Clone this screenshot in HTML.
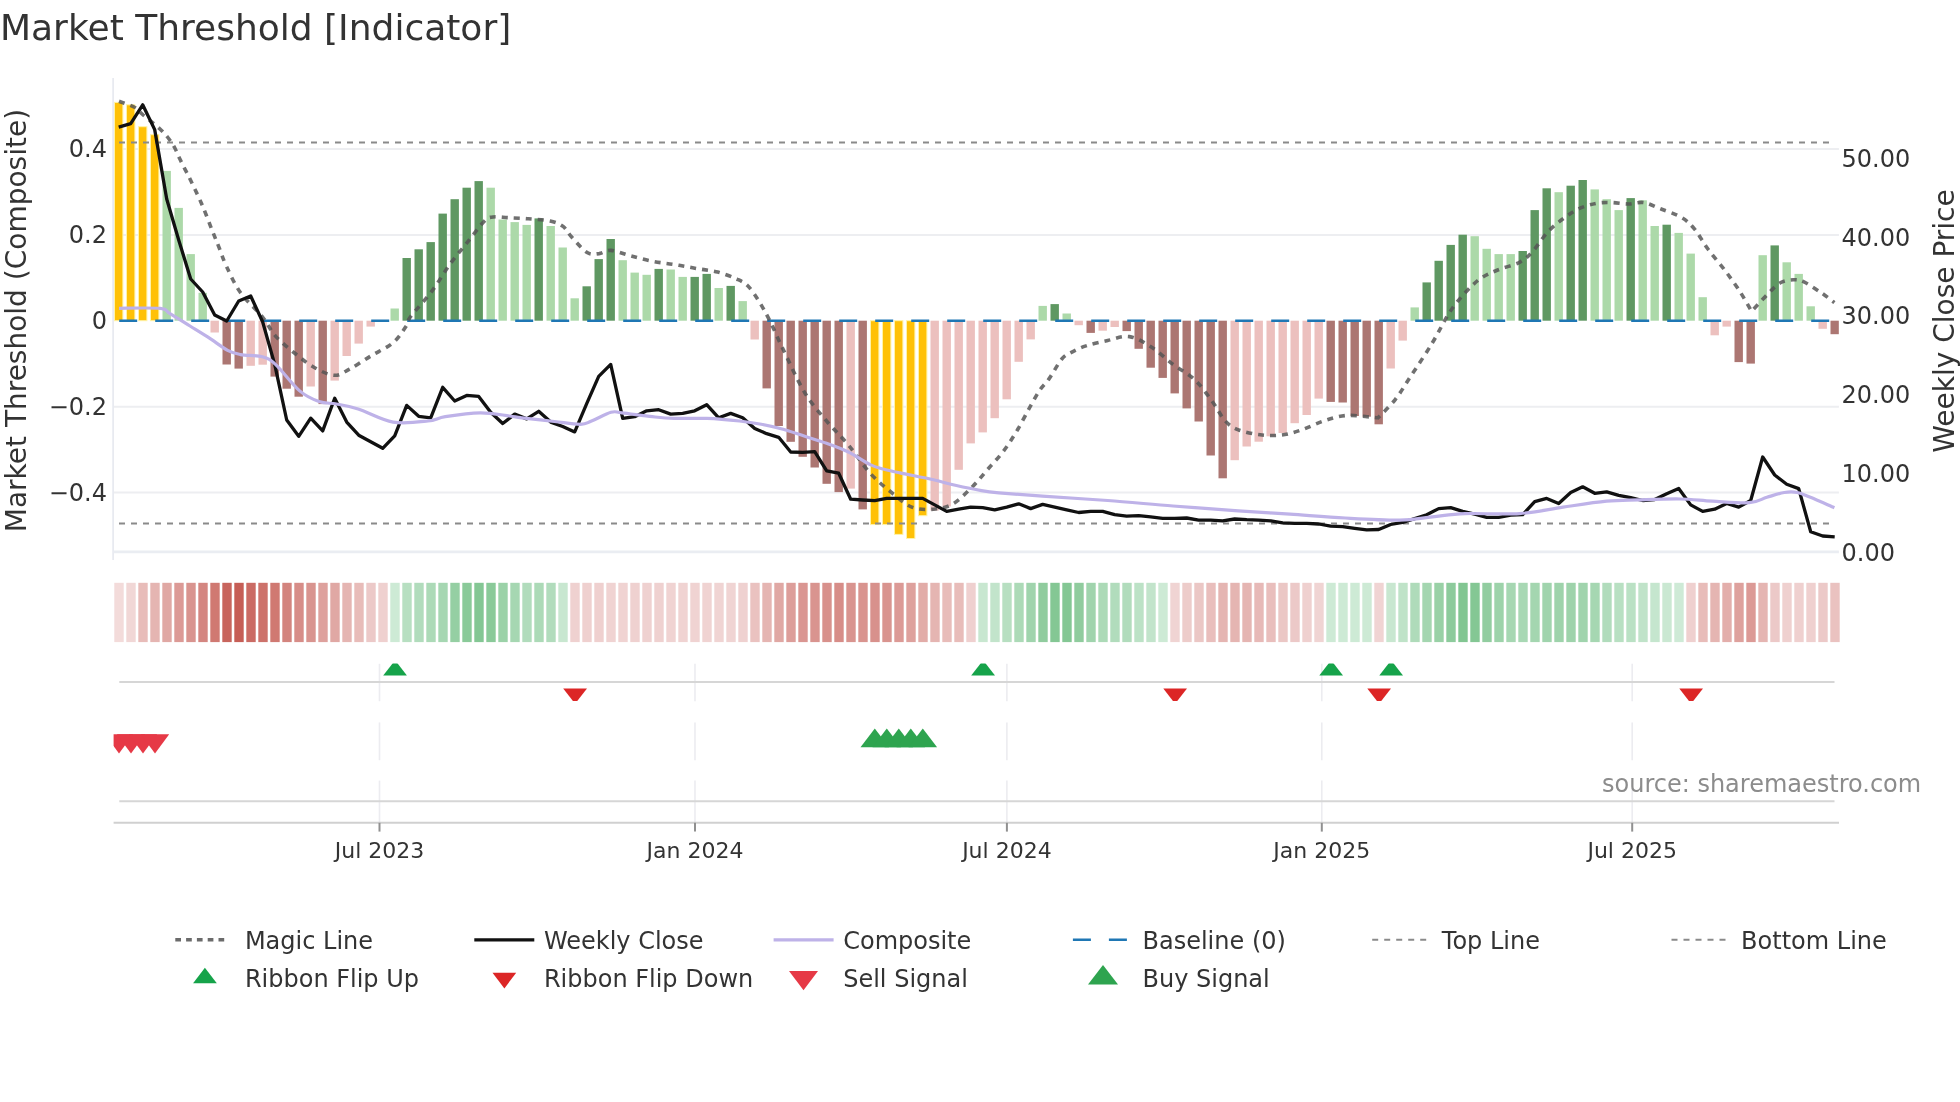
<!DOCTYPE html><html><head><meta charset="utf-8"><title>Market Threshold [Indicator]</title>
<style>html,body{margin:0;padding:0;background:#fff;}svg{display:block;will-change:transform;}text{-webkit-font-smoothing:antialiased;font-family:"DejaVu Sans","Liberation Sans",sans-serif;}</style></head><body>
<svg width="1960" height="1102" viewBox="0 0 1960 1102">
<rect width="1960" height="1102" fill="#fff"/>
<defs>
<clipPath id="cMain"><rect x="113.6" y="78" width="1725.3" height="475"/></clipPath>
<clipPath id="cFlip"><rect x="113.6" y="663.5" width="1725.3" height="37.5"/></clipPath>
<clipPath id="cSig"><rect x="113.6" y="722.4" width="1725.3" height="38"/></clipPath>
</defs>
<text x="0" y="40" font-size="36" fill="#333">Market Threshold [Indicator]</text>
<line x1="113.6" y1="149.1" x2="1838.9" y2="149.1" stroke="#edeef1" stroke-width="2"/>
<line x1="113.6" y1="234.95" x2="1838.9" y2="234.95" stroke="#edeef1" stroke-width="2"/>
<line x1="113.6" y1="406.65" x2="1838.9" y2="406.65" stroke="#edeef1" stroke-width="2"/>
<line x1="113.6" y1="492.5" x2="1838.9" y2="492.5" stroke="#edeef1" stroke-width="2"/>
<line x1="113.1" y1="78" x2="113.1" y2="560" stroke="#e6e8ef" stroke-width="1.6"/>
<line x1="113.6" y1="551.9" x2="1838.9" y2="551.9" stroke="#eaedf2" stroke-width="2.6"/>
<g clip-path="url(#cMain)">
<rect x="114.5" y="102.4" width="8.4" height="218.3" fill="#FFC107" stroke="#fff3a8" stroke-width="1"/>
<rect x="126.5" y="104.8" width="8.4" height="215.9" fill="#FFC107" stroke="#fff3a8" stroke-width="1"/>
<rect x="138.5" y="126.7" width="8.4" height="194" fill="#FFC107" stroke="#fff3a8" stroke-width="1"/>
<rect x="150.5" y="134.7" width="8.4" height="186" fill="#FFC107" stroke="#fff3a8" stroke-width="1"/>
<rect x="162.5" y="170.9" width="8.4" height="149.8" fill="#acd9a9"/>
<rect x="174.5" y="207.9" width="8.4" height="112.8" fill="#acd9a9"/>
<rect x="186.5" y="254.1" width="8.4" height="66.6" fill="#acd9a9"/>
<rect x="198.5" y="292.8" width="8.4" height="27.9" fill="#acd9a9"/>
<rect x="210.5" y="320.7" width="8.4" height="11.8" fill="#ecc0be"/>
<rect x="222.5" y="320.7" width="8.4" height="43.8" fill="#ac7672"/>
<rect x="234.5" y="320.7" width="8.4" height="47.9" fill="#ac7672"/>
<rect x="246.5" y="320.7" width="8.4" height="45.1" fill="#ecc0be"/>
<rect x="258.5" y="320.7" width="8.4" height="44" fill="#ecc0be"/>
<rect x="270.5" y="320.7" width="8.4" height="55.9" fill="#ac7672"/>
<rect x="282.5" y="320.7" width="8.4" height="68" fill="#ac7672"/>
<rect x="294.5" y="320.7" width="8.4" height="76" fill="#ac7672"/>
<rect x="306.5" y="320.7" width="8.4" height="65.8" fill="#ecc0be"/>
<rect x="318.5" y="320.7" width="8.4" height="83.4" fill="#ac7672"/>
<rect x="330.5" y="320.7" width="8.4" height="59.9" fill="#ecc0be"/>
<rect x="342.5" y="320.7" width="8.4" height="35.3" fill="#ecc0be"/>
<rect x="354.5" y="320.7" width="8.4" height="22.9" fill="#ecc0be"/>
<rect x="366.5" y="320.7" width="8.4" height="5.9" fill="#ecc0be"/>
<rect x="378.5" y="320.7" width="8.4" height="0.8" fill="#ecc0be"/>
<rect x="390.5" y="308.5" width="8.4" height="12.2" fill="#acd9a9"/>
<rect x="402.5" y="258" width="8.4" height="62.7" fill="#5f9862"/>
<rect x="414.5" y="249.3" width="8.4" height="71.4" fill="#5f9862"/>
<rect x="426.5" y="242.1" width="8.4" height="78.6" fill="#5f9862"/>
<rect x="438.5" y="213.6" width="8.4" height="107.1" fill="#5f9862"/>
<rect x="450.5" y="199.2" width="8.4" height="121.5" fill="#5f9862"/>
<rect x="462.5" y="187.7" width="8.4" height="133" fill="#5f9862"/>
<rect x="474.5" y="181.1" width="8.4" height="139.6" fill="#5f9862"/>
<rect x="486.5" y="187.7" width="8.4" height="133" fill="#acd9a9"/>
<rect x="498.5" y="219.5" width="8.4" height="101.2" fill="#acd9a9"/>
<rect x="510.5" y="222.1" width="8.4" height="98.6" fill="#acd9a9"/>
<rect x="522.5" y="224.9" width="8.4" height="95.8" fill="#acd9a9"/>
<rect x="534.5" y="218.4" width="8.4" height="102.3" fill="#5f9862"/>
<rect x="546.5" y="226" width="8.4" height="94.7" fill="#acd9a9"/>
<rect x="558.5" y="247.5" width="8.4" height="73.2" fill="#acd9a9"/>
<rect x="570.5" y="298.3" width="8.4" height="22.4" fill="#acd9a9"/>
<rect x="582.5" y="286.3" width="8.4" height="34.4" fill="#5f9862"/>
<rect x="594.5" y="259.1" width="8.4" height="61.6" fill="#5f9862"/>
<rect x="606.5" y="239" width="8.4" height="81.7" fill="#5f9862"/>
<rect x="618.5" y="260.2" width="8.4" height="60.5" fill="#acd9a9"/>
<rect x="630.5" y="272.6" width="8.4" height="48.1" fill="#acd9a9"/>
<rect x="642.5" y="274.8" width="8.4" height="45.9" fill="#acd9a9"/>
<rect x="654.5" y="268.9" width="8.4" height="51.8" fill="#5f9862"/>
<rect x="666.5" y="269.5" width="8.4" height="51.2" fill="#acd9a9"/>
<rect x="678.5" y="276.9" width="8.4" height="43.8" fill="#acd9a9"/>
<rect x="690.5" y="276.9" width="8.4" height="43.8" fill="#5f9862"/>
<rect x="702.5" y="273.9" width="8.4" height="46.8" fill="#5f9862"/>
<rect x="714.5" y="288" width="8.4" height="32.7" fill="#acd9a9"/>
<rect x="726.5" y="285.9" width="8.4" height="34.8" fill="#5f9862"/>
<rect x="738.5" y="301.1" width="8.4" height="19.6" fill="#acd9a9"/>
<rect x="750.5" y="320.7" width="8.4" height="18.8" fill="#ecc0be"/>
<rect x="762.5" y="320.7" width="8.4" height="67.7" fill="#ac7672"/>
<rect x="774.5" y="320.7" width="8.4" height="105.3" fill="#ac7672"/>
<rect x="786.5" y="320.7" width="8.4" height="121.1" fill="#ac7672"/>
<rect x="798.5" y="320.7" width="8.4" height="136.1" fill="#ac7672"/>
<rect x="810.5" y="320.7" width="8.4" height="146.8" fill="#ac7672"/>
<rect x="822.5" y="320.7" width="8.4" height="163.1" fill="#ac7672"/>
<rect x="834.5" y="320.7" width="8.4" height="171.4" fill="#ac7672"/>
<rect x="846.5" y="320.7" width="8.4" height="167.9" fill="#ecc0be"/>
<rect x="858.5" y="320.7" width="8.4" height="188.7" fill="#ac7672"/>
<rect x="870.5" y="320.7" width="8.4" height="203.9" fill="#FFC107" stroke="#fff3a8" stroke-width="1"/>
<rect x="882.5" y="320.7" width="8.4" height="203.9" fill="#FFC107" stroke="#fff3a8" stroke-width="1"/>
<rect x="894.5" y="320.7" width="8.4" height="213.7" fill="#FFC107" stroke="#fff3a8" stroke-width="1"/>
<rect x="906.5" y="320.7" width="8.4" height="217.8" fill="#FFC107" stroke="#fff3a8" stroke-width="1"/>
<rect x="918.5" y="320.7" width="8.4" height="195" fill="#FFC107" stroke="#fff3a8" stroke-width="1"/>
<rect x="930.5" y="320.7" width="8.4" height="189.8" fill="#ecc0be"/>
<rect x="942.5" y="320.7" width="8.4" height="185.8" fill="#ecc0be"/>
<rect x="954.5" y="320.7" width="8.4" height="149.1" fill="#ecc0be"/>
<rect x="966.5" y="320.7" width="8.4" height="122.7" fill="#ecc0be"/>
<rect x="978.5" y="320.7" width="8.4" height="111.7" fill="#ecc0be"/>
<rect x="990.5" y="320.7" width="8.4" height="97.5" fill="#ecc0be"/>
<rect x="1002.5" y="320.7" width="8.4" height="78.6" fill="#ecc0be"/>
<rect x="1014.5" y="320.7" width="8.4" height="41.1" fill="#ecc0be"/>
<rect x="1026.5" y="320.7" width="8.4" height="18.7" fill="#ecc0be"/>
<rect x="1038.5" y="305.9" width="8.4" height="14.8" fill="#acd9a9"/>
<rect x="1050.5" y="304.1" width="8.4" height="16.6" fill="#5f9862"/>
<rect x="1062.5" y="313.5" width="8.4" height="7.2" fill="#acd9a9"/>
<rect x="1074.5" y="320.7" width="8.4" height="4.5" fill="#ecc0be"/>
<rect x="1086.5" y="320.7" width="8.4" height="12.2" fill="#ac7672"/>
<rect x="1098.5" y="320.7" width="8.4" height="10" fill="#ecc0be"/>
<rect x="1110.5" y="320.7" width="8.4" height="6.3" fill="#ecc0be"/>
<rect x="1122.5" y="320.7" width="8.4" height="10.4" fill="#ac7672"/>
<rect x="1134.5" y="320.7" width="8.4" height="28.1" fill="#ac7672"/>
<rect x="1146.5" y="320.7" width="8.4" height="47" fill="#ac7672"/>
<rect x="1158.5" y="320.7" width="8.4" height="57.2" fill="#ac7672"/>
<rect x="1170.5" y="320.7" width="8.4" height="72.7" fill="#ac7672"/>
<rect x="1182.5" y="320.7" width="8.4" height="87.7" fill="#ac7672"/>
<rect x="1194.5" y="320.7" width="8.4" height="100.8" fill="#ac7672"/>
<rect x="1206.5" y="320.7" width="8.4" height="134.8" fill="#ac7672"/>
<rect x="1218.5" y="320.7" width="8.4" height="157.6" fill="#ac7672"/>
<rect x="1230.5" y="320.7" width="8.4" height="139.5" fill="#ecc0be"/>
<rect x="1242.5" y="320.7" width="8.4" height="125.8" fill="#ecc0be"/>
<rect x="1254.5" y="320.7" width="8.4" height="121" fill="#ecc0be"/>
<rect x="1266.5" y="320.7" width="8.4" height="115.6" fill="#ecc0be"/>
<rect x="1278.5" y="320.7" width="8.4" height="112.3" fill="#ecc0be"/>
<rect x="1290.5" y="320.7" width="8.4" height="102.5" fill="#ecc0be"/>
<rect x="1302.5" y="320.7" width="8.4" height="94.3" fill="#ecc0be"/>
<rect x="1314.5" y="320.7" width="8.4" height="77.9" fill="#ecc0be"/>
<rect x="1326.5" y="320.7" width="8.4" height="81.2" fill="#ac7672"/>
<rect x="1338.5" y="320.7" width="8.4" height="81.8" fill="#ac7672"/>
<rect x="1350.5" y="320.7" width="8.4" height="95.3" fill="#ac7672"/>
<rect x="1362.5" y="320.7" width="8.4" height="96" fill="#ac7672"/>
<rect x="1374.5" y="320.7" width="8.4" height="103.6" fill="#ac7672"/>
<rect x="1386.5" y="320.7" width="8.4" height="47.8" fill="#ecc0be"/>
<rect x="1398.5" y="320.7" width="8.4" height="19.9" fill="#ecc0be"/>
<rect x="1410.5" y="307.4" width="8.4" height="13.3" fill="#acd9a9"/>
<rect x="1422.5" y="282.4" width="8.4" height="38.3" fill="#5f9862"/>
<rect x="1434.5" y="260.8" width="8.4" height="59.9" fill="#5f9862"/>
<rect x="1446.5" y="244.9" width="8.4" height="75.8" fill="#5f9862"/>
<rect x="1458.5" y="234.7" width="8.4" height="86" fill="#5f9862"/>
<rect x="1470.5" y="236.2" width="8.4" height="84.5" fill="#acd9a9"/>
<rect x="1482.5" y="248.8" width="8.4" height="71.9" fill="#acd9a9"/>
<rect x="1494.5" y="254.1" width="8.4" height="66.6" fill="#acd9a9"/>
<rect x="1506.5" y="254.1" width="8.4" height="66.6" fill="#acd9a9"/>
<rect x="1518.5" y="251" width="8.4" height="69.7" fill="#5f9862"/>
<rect x="1530.5" y="210.1" width="8.4" height="110.6" fill="#5f9862"/>
<rect x="1542.5" y="188.3" width="8.4" height="132.4" fill="#5f9862"/>
<rect x="1554.5" y="192.2" width="8.4" height="128.5" fill="#acd9a9"/>
<rect x="1566.5" y="185.7" width="8.4" height="135" fill="#5f9862"/>
<rect x="1578.5" y="180" width="8.4" height="140.7" fill="#5f9862"/>
<rect x="1590.5" y="189.4" width="8.4" height="131.3" fill="#acd9a9"/>
<rect x="1602.5" y="199.2" width="8.4" height="121.5" fill="#acd9a9"/>
<rect x="1614.5" y="210.1" width="8.4" height="110.6" fill="#acd9a9"/>
<rect x="1626.5" y="198.1" width="8.4" height="122.6" fill="#5f9862"/>
<rect x="1638.5" y="200.3" width="8.4" height="120.4" fill="#acd9a9"/>
<rect x="1650.5" y="226" width="8.4" height="94.7" fill="#acd9a9"/>
<rect x="1662.5" y="224.7" width="8.4" height="96" fill="#5f9862"/>
<rect x="1674.5" y="232.9" width="8.4" height="87.8" fill="#acd9a9"/>
<rect x="1686.5" y="253.6" width="8.4" height="67.1" fill="#acd9a9"/>
<rect x="1698.5" y="297.2" width="8.4" height="23.5" fill="#acd9a9"/>
<rect x="1710.5" y="320.7" width="8.4" height="14.6" fill="#ecc0be"/>
<rect x="1722.5" y="320.7" width="8.4" height="5.9" fill="#ecc0be"/>
<rect x="1734.5" y="320.7" width="8.4" height="41.4" fill="#ac7672"/>
<rect x="1746.5" y="320.7" width="8.4" height="42.9" fill="#ac7672"/>
<rect x="1758.5" y="255.2" width="8.4" height="65.5" fill="#acd9a9"/>
<rect x="1770.5" y="245.4" width="8.4" height="75.3" fill="#5f9862"/>
<rect x="1782.5" y="262.3" width="8.4" height="58.4" fill="#acd9a9"/>
<rect x="1794.5" y="273.9" width="8.4" height="46.8" fill="#acd9a9"/>
<rect x="1806.5" y="306.3" width="8.4" height="14.4" fill="#acd9a9"/>
<rect x="1818.5" y="320.7" width="8.4" height="8.1" fill="#ecc0be"/>
<rect x="1830.5" y="320.7" width="8.4" height="13.5" fill="#ac7672"/>
<line x1="119" y1="142.5" x2="1834.7" y2="142.5" stroke="#8a8a8a" stroke-width="2" stroke-dasharray="6,6"/>
<line x1="119" y1="523.4" x2="1834.7" y2="523.4" stroke="#8a8a8a" stroke-width="2" stroke-dasharray="6,6"/>
<line x1="119.2" y1="320.7" x2="1834.7" y2="320.7" stroke="#1f77b4" stroke-width="2.4" stroke-dasharray="18,18"/>
<path d="M119,101.3C121.6,102.3 130.6,105 134.5,107.2C138.4,109.4 138.5,111 142.6,114.5C146.7,118 154.6,124 159,128.1C163.4,132.2 166.3,135.5 169,139C171.7,142.5 173.5,145.7 175.3,149C177.1,152.3 178.2,155.5 179.9,159C181.6,162.5 183.5,166.4 185.3,169.9C187.1,173.4 187.8,174.4 190.5,180C193.2,185.6 197.8,195 201.5,203.5C205.2,212 209.5,223.7 212.4,231C215.3,238.3 216.6,241.2 218.9,247.1C221.2,253 222.9,258.8 226.5,266.4C230.1,274 234.6,284.4 240.6,292.8C246.6,301.2 256.6,309.6 262.4,316.8C268.2,324 270.1,330 275.5,336.1C280.9,342.2 288.6,348.2 295.1,353.5C301.6,358.8 308.2,364.1 314.7,367.7C321.2,371.3 328.5,375.1 334.3,375.3C340.1,375.6 343.3,372.5 349.5,369.2C355.7,365.9 364,360.1 371.3,355.7C378.6,351.3 387.3,347.6 393.1,342.7C398.9,337.8 403.2,330.6 406.1,326.3C409,322 406.1,322.8 410.5,316.8C414.9,310.9 425.8,299.3 432.3,290.6C438.8,281.9 443.9,272.5 449.7,264.5C455.5,256.5 461.3,249.9 467.1,242.7C472.9,235.4 480.1,225.3 484.5,221C488.9,216.7 489.2,217.6 493.2,217C497.2,216.4 502.6,217.4 508.5,217.7C514.4,218 521.4,218.2 528.3,218.8C535.2,219.4 544.3,219.7 550.1,221C555.9,222.3 559.5,223.7 563.1,226.4C566.7,229.1 567.9,233 571.9,237.3C575.9,241.7 582.6,249.8 587.1,252.5C591.6,255.2 595.1,253.9 599.1,253.6C603.1,253.2 605.8,250 611,250.4C616.2,250.8 623.7,254 630.6,255.8C637.5,257.6 645.1,259.9 652.4,261.3C659.7,262.8 666.9,263.3 674.2,264.5C681.5,265.7 688.8,267.1 696,268.4C703.2,269.7 710.8,270.3 717.7,272.1C724.6,273.9 732.2,276.9 737.3,279.3C742.4,281.7 744.6,282.6 748.2,286.3C751.8,290 755.5,295.7 759.1,301.5C762.7,307.3 766,313.1 770,321.1C774,329.1 777.3,337.4 783.1,349.3C788.9,361.2 797.5,380.8 804.8,392.7C812,404.6 819.3,412.3 826.6,421C833.9,429.7 841.1,436.3 848.4,445C855.7,453.7 862.9,465.3 870.2,473.3C877.5,481.3 885.1,487.3 892,492.9C898.9,498.5 904.9,504.4 911.8,507.1C918.7,509.8 926.6,509.8 933.5,509.2C940.4,508.6 946.6,507.6 953.1,503.8C959.6,500 966.9,492.2 972.7,486.4C978.5,480.6 982.9,474.8 988,469C993.1,463.2 998.5,457.7 1003.2,451.5C1007.9,445.3 1011.9,439.1 1016.3,431.9C1020.7,424.6 1025.5,415 1029.4,408C1033.4,401 1036.7,394.7 1040,389.8C1043.3,384.9 1045.4,384 1049,378.9C1052.6,373.8 1058.1,363.4 1061.8,359C1065.5,354.6 1066.9,354.8 1070.9,352.6C1074.9,350.4 1079.9,347.9 1086,345.9C1092.1,343.9 1100.5,342.1 1107.7,340.5C1115,338.9 1122.2,335.5 1129.5,336.6C1136.8,337.7 1144,342.4 1151.3,347C1158.6,351.6 1165.8,358.9 1173.1,364.4C1180.3,369.8 1188.3,373.5 1194.8,379.7C1201.3,385.9 1207.2,394.6 1212.3,401.5C1217.4,408.4 1220.9,416.3 1225.3,421C1229.7,425.7 1232.6,427.5 1238.4,429.8C1244.2,432.1 1253,433.9 1260.2,434.8C1267.5,435.7 1275,435.8 1281.9,435C1288.8,434.2 1294.9,432.1 1301.8,429.8C1308.7,427.5 1316.2,423.4 1323.5,421C1330.8,418.6 1338,416.3 1345.3,415.6C1352.6,414.9 1361.6,416.3 1367.1,416.7C1372.5,417.1 1378,417.8 1378,417.8C1378,417.8 1390,406.2 1395.4,399.3C1400.8,392.4 1404.4,385.9 1410.6,376.5C1416.8,367.1 1425.9,353.6 1432.4,342.8C1438.9,332.1 1444.3,320.3 1449.8,312C1455.2,303.7 1460,298.4 1465.1,292.8C1470.2,287.2 1474.9,282.5 1480.3,278.7C1485.7,274.9 1491.2,272.7 1497.7,270C1504.2,267.3 1513.7,265.4 1519.5,262.3C1525.3,259.2 1527.9,256.6 1532.6,251.5C1537.3,246.4 1542.7,237.3 1547.8,231.9C1552.9,226.5 1558,222.6 1563.1,218.8C1568.2,215 1572.9,211.6 1578.3,209C1583.7,206.4 1590.2,204.6 1595.7,203.5C1601.2,202.4 1605.5,202.4 1611,202.5C1616.5,202.6 1623,204 1628.4,204C1633.8,204 1638.1,201.7 1643.6,202.5C1649,203.3 1654.7,206.5 1661.1,209C1667.5,211.5 1676.2,214.2 1681.9,217.7C1687.6,221.1 1690.6,224.4 1695,229.7C1699.4,235 1703,242.4 1708.1,249.3C1713.2,256.2 1720.1,263.9 1725.5,271.1C1730.9,278.4 1736.4,286.1 1740.7,292.8C1745,299.5 1751.6,311.3 1751.6,311.3C1751.6,311.3 1762.2,299.7 1766.9,295C1771.6,290.3 1775.6,285.5 1779.9,283C1784.2,280.5 1789,280 1793,279.8C1797,279.6 1799.2,279.7 1803.9,281.9C1808.6,284.1 1816.2,289.4 1821.3,292.8C1826.4,296.2 1832.2,301 1834.4,302.6" fill="none" stroke="#555" stroke-opacity="0.84" stroke-width="3.6" stroke-dasharray="6,6"/>
<polyline points="118.7,127.2 130.7,123.7 142.7,104.8 154.7,129.6 166.7,199 178.7,240 190.7,279 202.7,292 214.7,315 226.7,321 238.7,301 250.7,296 262.7,322 274.7,364.4 286.7,420 298.7,436.3 310.7,418.2 322.7,430.9 334.7,398.2 346.7,422.1 358.7,435.2 370.7,441.7 382.7,448.3 394.7,435.9 406.7,405.4 418.7,416.3 430.7,417.8 442.7,387.3 454.7,401 466.7,395.4 478.7,396.4 490.7,412.3 502.7,423.5 514.7,414.1 526.7,418.9 538.7,411.3 550.7,422.1 562.7,426.5 574.7,431.9 586.7,403.6 598.7,376.4 610.7,364.4 622.7,418.4 634.7,416.7 646.7,410.8 658.7,409.7 670.7,414.1 682.7,413.4 694.7,410.8 706.7,404.7 718.7,417.8 730.7,413.4 742.7,417.8 754.7,428.5 766.7,433.7 778.7,437.3 790.7,452 802.7,452.3 814.7,451.6 826.7,470.9 838.7,473.2 850.7,499.2 862.7,500 874.7,500.7 886.7,498.4 898.7,498.4 910.7,498.4 922.7,498.4 934.7,504.9 946.7,511.4 958.7,509.2 970.7,507.1 982.7,507.7 994.7,509.9 1006.7,507.1 1018.7,503.8 1030.7,508.6 1042.7,504.4 1054.7,507.1 1066.7,509.9 1078.7,512.5 1090.7,511.4 1102.7,511.4 1114.7,514.7 1126.7,516.2 1138.7,515.6 1150.7,516.9 1162.7,518.4 1174.7,518.4 1186.7,518 1198.7,520.1 1210.7,520.1 1222.7,520.8 1234.7,519 1246.7,519.7 1258.7,520.1 1270.7,520.8 1282.7,522.8 1294.7,523.4 1306.7,523.4 1318.7,524 1330.7,526.2 1342.7,526.7 1354.7,528.4 1366.7,529.9 1378.7,529.5 1390.7,524.5 1402.7,522.3 1414.7,518.6 1426.7,514.7 1438.7,508.6 1450.7,507.7 1462.7,511.4 1474.7,514.2 1486.7,517.3 1498.7,517.3 1510.7,515.1 1522.7,514.7 1534.7,501.6 1546.7,498.4 1558.7,503.5 1570.7,492.5 1582.7,486.8 1594.7,493.3 1606.7,491.8 1618.7,495.3 1630.7,497.7 1642.7,500.5 1654.7,499.6 1666.7,493.8 1678.7,488.5 1690.7,504.9 1702.7,511.4 1714.7,509.2 1726.7,503.4 1738.7,507.1 1750.7,500.5 1762.7,457 1774.7,475 1786.7,484.2 1798.7,488.6 1810.7,531.7 1822.7,536 1834.7,536.9" fill="none" stroke="#111" stroke-width="3.3" stroke-linejoin="round"/>
<path d="M119,308.3C125.8,308.3 151.5,307.5 160,308.4C168.5,309.3 165,310.7 170,313.6C175,316.5 183.7,322.1 190,326C196.3,329.9 201.7,333.1 208,337.2C214.3,341.2 222.2,347.4 227.6,350.3C233,353.2 234.8,353.5 240.6,354.6C246.4,355.7 256.6,355.2 262.4,356.8C268.2,358.4 269.3,358.8 275.5,364.4C281.7,370 292.1,384.4 299.4,390.6C306.6,396.8 312.8,399.3 319,401.5C325.2,403.7 330,402.8 336.5,404C343,405.2 348.8,406 358.2,409C367.6,412 381.5,420.1 393.1,422.1C404.7,424.1 419.2,421.9 427.9,421C436.6,420.1 436.6,418.1 445.3,416.7C454,415.3 469.5,412.9 480.2,412.8C490.9,412.7 502.7,415.2 509.6,416C516.5,416.8 514.3,416.9 521.8,417.8C529.3,418.7 544.6,420.4 554.4,421.5C564.2,422.6 574.4,424.4 580.6,424.3C586.8,424.2 586.4,423 591.5,421C596.6,419 605.9,413.7 611,412.3C616.1,410.9 615,412.1 621.9,412.8C628.8,413.5 643.7,415.8 652.4,416.7C661.1,417.6 665.1,418.1 674.2,418.4C683.3,418.7 696,418 706.9,418.4C717.8,418.8 730.4,420 739.5,421C748.6,422 754,422.9 761.3,424.3C768.6,425.7 775.9,427.3 783.1,429.3C790.4,431.3 797.5,434 804.8,436.3C812,438.6 819.3,440.7 826.6,443.3C833.9,445.9 841.1,448.4 848.4,452C855.7,455.6 864.4,461.8 870.2,464.6C876,467.4 878.2,467.6 883.2,469C888.2,470.4 891.6,471.1 900,472.9C908.4,474.7 924.3,477.7 933.5,479.8C942.7,481.9 947.3,483.5 955.3,485.3C963.3,487.1 974.2,489.4 981.5,490.7C988.8,492 988.8,492 998.9,492.9C1009,493.8 1024.3,494.9 1042.4,496.2C1060.5,497.5 1085.9,498.9 1107.7,500.5C1129.5,502.1 1151.3,504.3 1173.1,506C1194.9,507.7 1218.9,509.4 1238.4,510.8C1257.9,512.2 1272.2,513 1290,514.2C1307.8,515.4 1327,517 1345.3,518C1363.6,519 1385.3,520.3 1399.8,520.1C1414.3,519.9 1421.5,518 1432.4,516.9C1443.3,515.8 1450.6,514.1 1465.1,513.6C1479.6,513.1 1503.2,514.7 1519.5,513.6C1535.8,512.5 1548.6,509.2 1563.1,507.1C1577.6,505 1593.9,502.4 1606.6,501.2C1619.3,500 1627.1,500.3 1639.3,499.9C1651.5,499.5 1667.8,498.8 1680,499C1692.2,499.2 1700.8,500.6 1712.4,501.2C1724,501.8 1740.3,503.3 1749.4,502.7C1758.5,502.1 1761.1,499 1766.9,497.3C1772.7,495.6 1779.2,493.3 1784.3,492.5C1789.4,491.7 1792.9,491.7 1797.3,492.5C1801.7,493.3 1804.2,494.8 1810.4,497.3C1816.6,499.8 1830.4,506 1834.4,507.7" fill="none" stroke="#beb2e8" stroke-width="3.2" stroke-linejoin="round"/>
</g>
<rect x="114.3" y="582.8" width="9.4" height="59.3" fill="#f3dbda"/>
<rect x="126.3" y="582.8" width="9.4" height="59.3" fill="#f1d7d6"/>
<rect x="138.3" y="582.8" width="9.4" height="59.3" fill="#e8bcb9"/>
<rect x="150.3" y="582.8" width="9.4" height="59.3" fill="#e5b5b2"/>
<rect x="162.3" y="582.8" width="9.4" height="59.3" fill="#e0a8a4"/>
<rect x="174.3" y="582.8" width="9.4" height="59.3" fill="#dc9a96"/>
<rect x="186.3" y="582.8" width="9.4" height="59.3" fill="#d9948f"/>
<rect x="198.3" y="582.8" width="9.4" height="59.3" fill="#d48681"/>
<rect x="210.3" y="582.8" width="9.4" height="59.3" fill="#d07972"/>
<rect x="222.3" y="582.8" width="9.4" height="59.3" fill="#c8655d"/>
<rect x="234.3" y="582.8" width="9.4" height="59.3" fill="#c65e56"/>
<rect x="246.3" y="582.8" width="9.4" height="59.3" fill="#cb6b64"/>
<rect x="258.3" y="582.8" width="9.4" height="59.3" fill="#cd726b"/>
<rect x="270.3" y="582.8" width="9.4" height="59.3" fill="#d07972"/>
<rect x="282.3" y="582.8" width="9.4" height="59.3" fill="#d3847e"/>
<rect x="294.3" y="582.8" width="9.4" height="59.3" fill="#d78d88"/>
<rect x="306.3" y="582.8" width="9.4" height="59.3" fill="#d9948f"/>
<rect x="318.3" y="582.8" width="9.4" height="59.3" fill="#dea19d"/>
<rect x="330.3" y="582.8" width="9.4" height="59.3" fill="#e0a8a4"/>
<rect x="342.3" y="582.8" width="9.4" height="59.3" fill="#e5b5b2"/>
<rect x="354.3" y="582.8" width="9.4" height="59.3" fill="#e8bcb9"/>
<rect x="366.3" y="582.8" width="9.4" height="59.3" fill="#ecc9c8"/>
<rect x="378.3" y="582.8" width="9.4" height="59.3" fill="#efd0cf"/>
<rect x="390.3" y="582.8" width="9.4" height="59.3" fill="#cdead5"/>
<rect x="402.3" y="582.8" width="9.4" height="59.3" fill="#b7dfc1"/>
<rect x="414.3" y="582.8" width="9.4" height="59.3" fill="#b1dcbc"/>
<rect x="426.3" y="582.8" width="9.4" height="59.3" fill="#acdab7"/>
<rect x="438.3" y="582.8" width="9.4" height="59.3" fill="#a6d7b2"/>
<rect x="450.3" y="582.8" width="9.4" height="59.3" fill="#95cfa3"/>
<rect x="462.3" y="582.8" width="9.4" height="59.3" fill="#8aca99"/>
<rect x="474.3" y="582.8" width="9.4" height="59.3" fill="#84c794"/>
<rect x="486.3" y="582.8" width="9.4" height="59.3" fill="#8aca99"/>
<rect x="498.3" y="582.8" width="9.4" height="59.3" fill="#9bd2a8"/>
<rect x="510.3" y="582.8" width="9.4" height="59.3" fill="#a6d7b2"/>
<rect x="522.3" y="582.8" width="9.4" height="59.3" fill="#b1dcbc"/>
<rect x="534.3" y="582.8" width="9.4" height="59.3" fill="#acdab7"/>
<rect x="546.3" y="582.8" width="9.4" height="59.3" fill="#b1dcbc"/>
<rect x="558.3" y="582.8" width="9.4" height="59.3" fill="#c8e7d0"/>
<rect x="570.3" y="582.8" width="9.4" height="59.3" fill="#efd1d0"/>
<rect x="582.3" y="582.8" width="9.4" height="59.3" fill="#efd0cf"/>
<rect x="594.3" y="582.8" width="9.4" height="59.3" fill="#efd0cf"/>
<rect x="606.3" y="582.8" width="9.4" height="59.3" fill="#f0d3d2"/>
<rect x="618.3" y="582.8" width="9.4" height="59.3" fill="#f0d3d2"/>
<rect x="630.3" y="582.8" width="9.4" height="59.3" fill="#efd1d0"/>
<rect x="642.3" y="582.8" width="9.4" height="59.3" fill="#efd1d0"/>
<rect x="654.3" y="582.8" width="9.4" height="59.3" fill="#efd1d0"/>
<rect x="666.3" y="582.8" width="9.4" height="59.3" fill="#f0d3d2"/>
<rect x="678.3" y="582.8" width="9.4" height="59.3" fill="#f0d3d2"/>
<rect x="690.3" y="582.8" width="9.4" height="59.3" fill="#f0d3d2"/>
<rect x="702.3" y="582.8" width="9.4" height="59.3" fill="#f0d3d2"/>
<rect x="714.3" y="582.8" width="9.4" height="59.3" fill="#f0d4d3"/>
<rect x="726.3" y="582.8" width="9.4" height="59.3" fill="#f0d4d3"/>
<rect x="738.3" y="582.8" width="9.4" height="59.3" fill="#efd1d0"/>
<rect x="750.3" y="582.8" width="9.4" height="59.3" fill="#eac2c0"/>
<rect x="762.3" y="582.8" width="9.4" height="59.3" fill="#e5b5b2"/>
<rect x="774.3" y="582.8" width="9.4" height="59.3" fill="#e0a8a4"/>
<rect x="786.3" y="582.8" width="9.4" height="59.3" fill="#dd9e9a"/>
<rect x="798.3" y="582.8" width="9.4" height="59.3" fill="#da9692"/>
<rect x="810.3" y="582.8" width="9.4" height="59.3" fill="#d9948f"/>
<rect x="822.3" y="582.8" width="9.4" height="59.3" fill="#d8918c"/>
<rect x="834.3" y="582.8" width="9.4" height="59.3" fill="#d78d88"/>
<rect x="846.3" y="582.8" width="9.4" height="59.3" fill="#d9948f"/>
<rect x="858.3" y="582.8" width="9.4" height="59.3" fill="#d9948f"/>
<rect x="870.3" y="582.8" width="9.4" height="59.3" fill="#d8918c"/>
<rect x="882.3" y="582.8" width="9.4" height="59.3" fill="#d9948f"/>
<rect x="894.3" y="582.8" width="9.4" height="59.3" fill="#dc9a96"/>
<rect x="906.3" y="582.8" width="9.4" height="59.3" fill="#dea19d"/>
<rect x="918.3" y="582.8" width="9.4" height="59.3" fill="#e2aca8"/>
<rect x="930.3" y="582.8" width="9.4" height="59.3" fill="#e5b5b2"/>
<rect x="942.3" y="582.8" width="9.4" height="59.3" fill="#e8bcb9"/>
<rect x="954.3" y="582.8" width="9.4" height="59.3" fill="#e8bcb9"/>
<rect x="966.3" y="582.8" width="9.4" height="59.3" fill="#efd0cf"/>
<rect x="978.3" y="582.8" width="9.4" height="59.3" fill="#c8e7d0"/>
<rect x="990.3" y="582.8" width="9.4" height="59.3" fill="#c2e4cb"/>
<rect x="1002.3" y="582.8" width="9.4" height="59.3" fill="#b7dfc1"/>
<rect x="1014.3" y="582.8" width="9.4" height="59.3" fill="#acdab7"/>
<rect x="1026.3" y="582.8" width="9.4" height="59.3" fill="#a0d4ad"/>
<rect x="1038.3" y="582.8" width="9.4" height="59.3" fill="#90cc9e"/>
<rect x="1050.3" y="582.8" width="9.4" height="59.3" fill="#84c794"/>
<rect x="1062.3" y="582.8" width="9.4" height="59.3" fill="#84c794"/>
<rect x="1074.3" y="582.8" width="9.4" height="59.3" fill="#90cc9e"/>
<rect x="1086.3" y="582.8" width="9.4" height="59.3" fill="#a0d4ad"/>
<rect x="1098.3" y="582.8" width="9.4" height="59.3" fill="#acdab7"/>
<rect x="1110.3" y="582.8" width="9.4" height="59.3" fill="#b1dcbc"/>
<rect x="1122.3" y="582.8" width="9.4" height="59.3" fill="#b1dcbc"/>
<rect x="1134.3" y="582.8" width="9.4" height="59.3" fill="#bce2c6"/>
<rect x="1146.3" y="582.8" width="9.4" height="59.3" fill="#c2e4cb"/>
<rect x="1158.3" y="582.8" width="9.4" height="59.3" fill="#cdead5"/>
<rect x="1170.3" y="582.8" width="9.4" height="59.3" fill="#f0d4d3"/>
<rect x="1182.3" y="582.8" width="9.4" height="59.3" fill="#edccca"/>
<rect x="1194.3" y="582.8" width="9.4" height="59.3" fill="#ebc7c5"/>
<rect x="1206.3" y="582.8" width="9.4" height="59.3" fill="#e9bebc"/>
<rect x="1218.3" y="582.8" width="9.4" height="59.3" fill="#e5b5b2"/>
<rect x="1230.3" y="582.8" width="9.4" height="59.3" fill="#e5b5b2"/>
<rect x="1242.3" y="582.8" width="9.4" height="59.3" fill="#e5b5b2"/>
<rect x="1254.3" y="582.8" width="9.4" height="59.3" fill="#e7b9b7"/>
<rect x="1266.3" y="582.8" width="9.4" height="59.3" fill="#e9bebc"/>
<rect x="1278.3" y="582.8" width="9.4" height="59.3" fill="#ebc7c5"/>
<rect x="1290.3" y="582.8" width="9.4" height="59.3" fill="#ecc9c8"/>
<rect x="1302.3" y="582.8" width="9.4" height="59.3" fill="#efd0cf"/>
<rect x="1314.3" y="582.8" width="9.4" height="59.3" fill="#f0d4d3"/>
<rect x="1326.3" y="582.8" width="9.4" height="59.3" fill="#cdead5"/>
<rect x="1338.3" y="582.8" width="9.4" height="59.3" fill="#cdead5"/>
<rect x="1350.3" y="582.8" width="9.4" height="59.3" fill="#cdead5"/>
<rect x="1362.3" y="582.8" width="9.4" height="59.3" fill="#cdead5"/>
<rect x="1374.3" y="582.8" width="9.4" height="59.3" fill="#f0d4d3"/>
<rect x="1386.3" y="582.8" width="9.4" height="59.3" fill="#c8e7d0"/>
<rect x="1398.3" y="582.8" width="9.4" height="59.3" fill="#bfe3c8"/>
<rect x="1410.3" y="582.8" width="9.4" height="59.3" fill="#afdbba"/>
<rect x="1422.3" y="582.8" width="9.4" height="59.3" fill="#a4d6b0"/>
<rect x="1434.3" y="582.8" width="9.4" height="59.3" fill="#99d1a6"/>
<rect x="1446.3" y="582.8" width="9.4" height="59.3" fill="#8dcb9c"/>
<rect x="1458.3" y="582.8" width="9.4" height="59.3" fill="#82c692"/>
<rect x="1470.3" y="582.8" width="9.4" height="59.3" fill="#84c794"/>
<rect x="1482.3" y="582.8" width="9.4" height="59.3" fill="#92cda0"/>
<rect x="1494.3" y="582.8" width="9.4" height="59.3" fill="#9dd3aa"/>
<rect x="1506.3" y="582.8" width="9.4" height="59.3" fill="#a6d7b2"/>
<rect x="1518.3" y="582.8" width="9.4" height="59.3" fill="#a8d8b4"/>
<rect x="1530.3" y="582.8" width="9.4" height="59.3" fill="#a4d6b0"/>
<rect x="1542.3" y="582.8" width="9.4" height="59.3" fill="#a0d4ad"/>
<rect x="1554.3" y="582.8" width="9.4" height="59.3" fill="#9ed3ab"/>
<rect x="1566.3" y="582.8" width="9.4" height="59.3" fill="#9ed3ab"/>
<rect x="1578.3" y="582.8" width="9.4" height="59.3" fill="#a0d4ad"/>
<rect x="1590.3" y="582.8" width="9.4" height="59.3" fill="#a6d7b2"/>
<rect x="1602.3" y="582.8" width="9.4" height="59.3" fill="#b1dcbc"/>
<rect x="1614.3" y="582.8" width="9.4" height="59.3" fill="#b8e0c2"/>
<rect x="1626.3" y="582.8" width="9.4" height="59.3" fill="#bae1c4"/>
<rect x="1638.3" y="582.8" width="9.4" height="59.3" fill="#c0e3c9"/>
<rect x="1650.3" y="582.8" width="9.4" height="59.3" fill="#c5e6ce"/>
<rect x="1662.3" y="582.8" width="9.4" height="59.3" fill="#cae8d2"/>
<rect x="1674.3" y="582.8" width="9.4" height="59.3" fill="#ceead6"/>
<rect x="1686.3" y="582.8" width="9.4" height="59.3" fill="#efd0cf"/>
<rect x="1698.3" y="582.8" width="9.4" height="59.3" fill="#e8bcb9"/>
<rect x="1710.3" y="582.8" width="9.4" height="59.3" fill="#e5b5b2"/>
<rect x="1722.3" y="582.8" width="9.4" height="59.3" fill="#e3aeab"/>
<rect x="1734.3" y="582.8" width="9.4" height="59.3" fill="#dea19d"/>
<rect x="1746.3" y="582.8" width="9.4" height="59.3" fill="#dc9a96"/>
<rect x="1758.3" y="582.8" width="9.4" height="59.3" fill="#e5b5b2"/>
<rect x="1770.3" y="582.8" width="9.4" height="59.3" fill="#ecc9c8"/>
<rect x="1782.3" y="582.8" width="9.4" height="59.3" fill="#efd0cf"/>
<rect x="1794.3" y="582.8" width="9.4" height="59.3" fill="#efd0cf"/>
<rect x="1806.3" y="582.8" width="9.4" height="59.3" fill="#efd0cf"/>
<rect x="1818.3" y="582.8" width="9.4" height="59.3" fill="#ecc9c8"/>
<rect x="1830.3" y="582.8" width="9.4" height="59.3" fill="#eac2c0"/>
<line x1="379.5" y1="663.8" x2="379.5" y2="701.2" stroke="#ececf0" stroke-width="1.6"/>
<line x1="379.5" y1="722.4" x2="379.5" y2="760.2" stroke="#ececf0" stroke-width="1.6"/>
<line x1="379.5" y1="780.6" x2="379.5" y2="822.6" stroke="#ececf0" stroke-width="1.6"/>
<line x1="695.0" y1="663.8" x2="695.0" y2="701.2" stroke="#ececf0" stroke-width="1.6"/>
<line x1="695.0" y1="722.4" x2="695.0" y2="760.2" stroke="#ececf0" stroke-width="1.6"/>
<line x1="695.0" y1="780.6" x2="695.0" y2="822.6" stroke="#ececf0" stroke-width="1.6"/>
<line x1="1006.9" y1="663.8" x2="1006.9" y2="701.2" stroke="#ececf0" stroke-width="1.6"/>
<line x1="1006.9" y1="722.4" x2="1006.9" y2="760.2" stroke="#ececf0" stroke-width="1.6"/>
<line x1="1006.9" y1="780.6" x2="1006.9" y2="822.6" stroke="#ececf0" stroke-width="1.6"/>
<line x1="1321.8" y1="663.8" x2="1321.8" y2="701.2" stroke="#ececf0" stroke-width="1.6"/>
<line x1="1321.8" y1="722.4" x2="1321.8" y2="760.2" stroke="#ececf0" stroke-width="1.6"/>
<line x1="1321.8" y1="780.6" x2="1321.8" y2="822.6" stroke="#ececf0" stroke-width="1.6"/>
<line x1="1632.2" y1="663.8" x2="1632.2" y2="701.2" stroke="#ececf0" stroke-width="1.6"/>
<line x1="1632.2" y1="722.4" x2="1632.2" y2="760.2" stroke="#ececf0" stroke-width="1.6"/>
<line x1="1632.2" y1="780.6" x2="1632.2" y2="822.6" stroke="#ececf0" stroke-width="1.6"/>
<line x1="119.3" y1="682.1" x2="1834.5" y2="682.1" stroke="#d6d6d6" stroke-width="2"/>
<line x1="119.3" y1="801.3" x2="1834.5" y2="801.3" stroke="#d6d6d6" stroke-width="2"/>
<line x1="113.6" y1="822.8" x2="1839" y2="822.8" stroke="#d0d0d0" stroke-width="2"/>
<line x1="379.5" y1="822.8" x2="379.5" y2="831.6" stroke="#909090" stroke-width="2"/>
<text x="379.5" y="857.9" font-size="22" fill="#333" text-anchor="middle">Jul 2023</text>
<line x1="695.0" y1="822.8" x2="695.0" y2="831.6" stroke="#909090" stroke-width="2"/>
<text x="695" y="857.9" font-size="22" fill="#333" text-anchor="middle">Jan 2024</text>
<line x1="1006.9" y1="822.8" x2="1006.9" y2="831.6" stroke="#909090" stroke-width="2"/>
<text x="1006.9" y="857.9" font-size="22" fill="#333" text-anchor="middle">Jul 2024</text>
<line x1="1321.8" y1="822.8" x2="1321.8" y2="831.6" stroke="#909090" stroke-width="2"/>
<text x="1321.8" y="857.9" font-size="22" fill="#333" text-anchor="middle">Jan 2025</text>
<line x1="1632.2" y1="822.8" x2="1632.2" y2="831.6" stroke="#909090" stroke-width="2"/>
<text x="1632.2" y="857.9" font-size="22" fill="#333" text-anchor="middle">Jul 2025</text>
<g clip-path="url(#cFlip)">
<polygon points="383.2,675.6 406.9,675.6 395.1,660.2" fill="#16a34a"/>
<polygon points="971.2,675.6 995,675.6 983.1,660.2" fill="#16a34a"/>
<polygon points="1319.3,675.6 1343,675.6 1331.1,660.2" fill="#16a34a"/>
<polygon points="1379.3,675.6 1403,675.6 1391.1,660.2" fill="#16a34a"/>
<polygon points="563.2,688.4 587,688.4 575.1,703.8" fill="#dc2626"/>
<polygon points="1163.3,688.4 1187,688.4 1175.1,703.8" fill="#dc2626"/>
<polygon points="1367.3,688.4 1391,688.4 1379.1,703.8" fill="#dc2626"/>
<polygon points="1679.3,688.4 1703,688.4 1691.1,703.8" fill="#dc2626"/>
</g>
<g clip-path="url(#cSig)">
<polygon points="104.8,734.3 133.2,734.3 119,753.4" fill="#e63946"/>
<polygon points="116.8,734.3 145.2,734.3 131,753.4" fill="#e63946"/>
<polygon points="128.8,734.3 157.2,734.3 143,753.4" fill="#e63946"/>
<polygon points="140.8,734.3 169.2,734.3 155,753.4" fill="#e63946"/>
<polygon points="860.5,747.2 889.1,747.2 874.8,728.6" fill="#2ea44f"/>
<polygon points="872.5,747.2 901.1,747.2 886.8,728.6" fill="#2ea44f"/>
<polygon points="884.5,747.2 913.1,747.2 898.8,728.6" fill="#2ea44f"/>
<polygon points="896.5,747.2 925.1,747.2 910.8,728.6" fill="#2ea44f"/>
<polygon points="908.5,747.2 937.1,747.2 922.8,728.6" fill="#2ea44f"/>
</g>
<text x="1921.2" y="792.3" font-size="24" fill="#8c8c8c" text-anchor="end">source: sharemaestro.com</text>
<text x="107" y="156.7" font-size="24" fill="#333" text-anchor="end">0.4</text>
<text x="107" y="242.7" font-size="24" fill="#333" text-anchor="end">0.2</text>
<text x="107" y="328.7" font-size="24" fill="#333" text-anchor="end">0</text>
<text x="107" y="414.6" font-size="24" fill="#333" text-anchor="end">−0.2</text>
<text x="107" y="500.6" font-size="24" fill="#333" text-anchor="end">−0.4</text>
<text x="1841.5" y="166.7" font-size="24" fill="#333">50.00</text>
<text x="1841.5" y="245.5" font-size="24" fill="#333">40.00</text>
<text x="1841.5" y="324.3" font-size="24" fill="#333">30.00</text>
<text x="1841.5" y="403.1" font-size="24" fill="#333">20.00</text>
<text x="1841.5" y="481.9" font-size="24" fill="#333">10.00</text>
<text x="1841.5" y="560.7" font-size="24" fill="#333">0.00</text>
<text transform="translate(25.8,320.6) rotate(-90)" font-size="28" fill="#333" text-anchor="middle">Market Threshold (Composite)</text>
<text transform="translate(1953.8,321) rotate(-90)" font-size="28" fill="#333" text-anchor="middle">Weekly Close Price</text>
<line x1="175.3" y1="939.8" x2="229.3" y2="939.8" stroke="#6b6b6b" stroke-width="3.6" stroke-dasharray="5.7,5.1"/>
<text x="244.9" y="948.5" font-size="24" fill="#333">Magic Line</text>
<line x1="474.3" y1="939.8" x2="534.3" y2="939.8" stroke="#111" stroke-width="3.2"/>
<text x="543.9" y="948.5" font-size="24" fill="#333">Weekly Close</text>
<line x1="773.6" y1="939.8" x2="833.6" y2="939.8" stroke="#beb2e8" stroke-width="3.2"/>
<text x="843.2" y="948.5" font-size="24" fill="#333">Composite</text>
<line x1="1072.9" y1="939.8" x2="1128.9" y2="939.8" stroke="#1f77b4" stroke-width="2.4" stroke-dasharray="18,18"/>
<text x="1142.5" y="948.5" font-size="24" fill="#333">Baseline (0)</text>
<line x1="1372.2" y1="939.8" x2="1428.2" y2="939.8" stroke="#8a8a8a" stroke-width="2" stroke-dasharray="6,6"/>
<text x="1441.8" y="948.5" font-size="24" fill="#333">Top Line</text>
<line x1="1671.5" y1="939.8" x2="1727.5" y2="939.8" stroke="#8a8a8a" stroke-width="2" stroke-dasharray="6,6"/>
<text x="1741.1" y="948.5" font-size="24" fill="#333">Bottom Line</text>
<polygon points="193.1,983.2 216.8,983.2 204.9,967.8" fill="#16a34a"/>
<text x="244.9" y="987.2" font-size="24" fill="#333">Ribbon Flip Up</text>
<polygon points="492.5,972.7 516.2,972.7 504.4,988.4" fill="#dc2626"/>
<text x="543.9" y="987.2" font-size="24" fill="#333">Ribbon Flip Down</text>
<polygon points="789,971 818,971 803.5,990.3" fill="#e63946"/>
<text x="843.2" y="987.2" font-size="24" fill="#333">Sell Signal</text>
<polygon points="1088,984.5 1118,984.5 1103,965.1" fill="#2ea44f"/>
<text x="1142.5" y="987.2" font-size="24" fill="#333">Buy Signal</text>
</svg></body></html>
